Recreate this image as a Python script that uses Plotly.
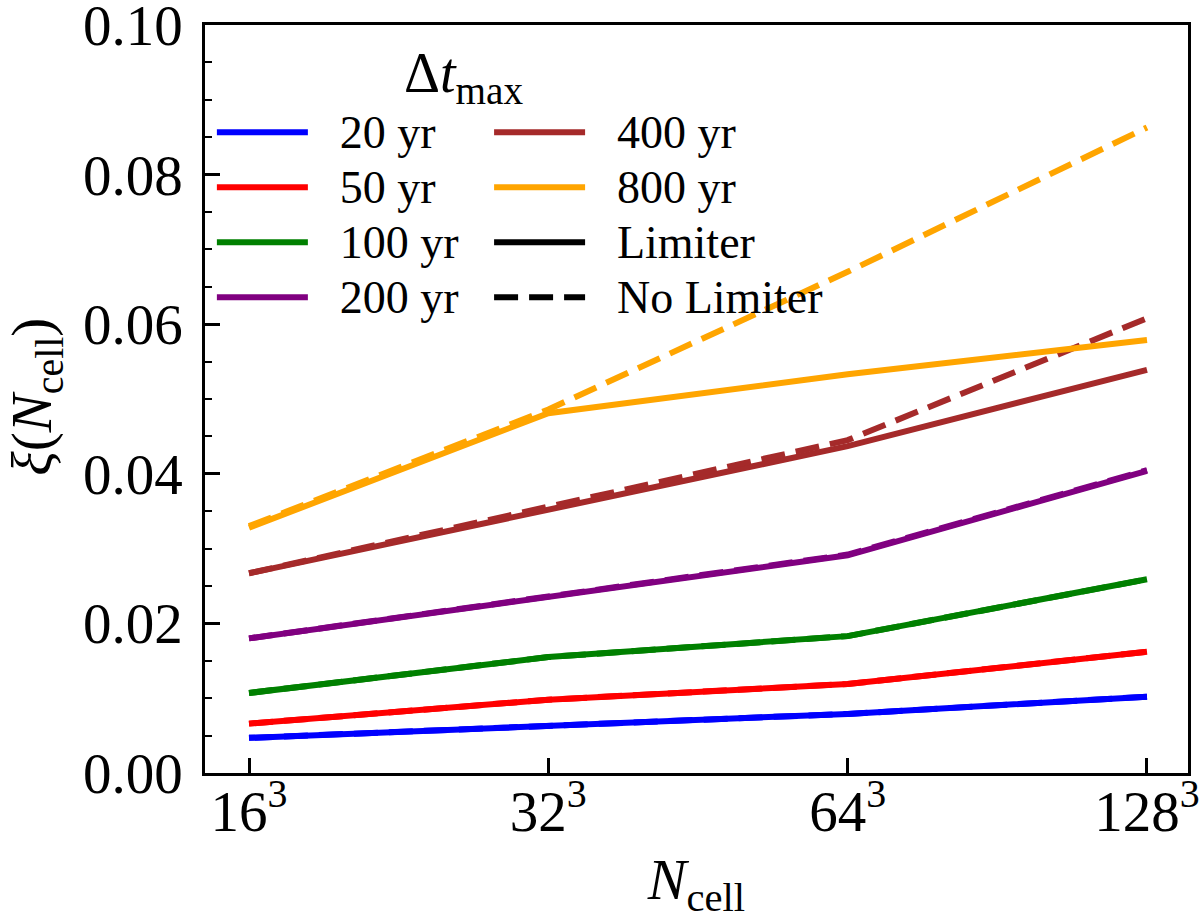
import plotly.graph_objects as go

categories = ["16<sup>3</sup>", "32<sup>3</sup>", "64<sup>3</sup>", "128<sup>3</sup>"]
labels = ["20 yr", "50 yr", "100 yr", "200 yr", "400 yr", "800 yr"]
colors = ["#0000ff", "#ff0000", "#008000", "#800080", "#a52a2a", "#ffa500"]
ytickvals = [0.00, 0.02, 0.04, 0.06, 0.08, 0.10]

lim_20 = [0.0047, 0.0064, 0.0079, 0.0102]
lim_50 = [0.0066, 0.0098, 0.0119, 0.0162]
lim_100 = [0.0107, 0.0155, 0.0183, 0.0259]
lim_200 = [0.0180, 0.0235, 0.0291, 0.0404]
lim_400 = [0.0267, 0.0353, 0.0437, 0.0539]
lim_800 = [0.0328, 0.0481, 0.0533, 0.0579]

nolim_20 = [0.0047, 0.0064, 0.0079, 0.0102]
nolim_50 = [0.0066, 0.0098, 0.0119, 0.0162]
nolim_100 = [0.0107, 0.0155, 0.0183, 0.0259]
nolim_200 = [0.0180, 0.0235, 0.0292, 0.0405]
nolim_400 = [0.0267, 0.0355, 0.0445, 0.0608]
nolim_800 = [0.0330, 0.0486, 0.0670, 0.0863]

limiter = [lim_20, lim_50, lim_100, lim_200, lim_400, lim_800]
nolimiter = [nolim_20, nolim_50, nolim_100, nolim_200, nolim_400, nolim_800]

xpos = list(range(len(categories)))
FONT = "Liberation Serif"
LW = 6
DASH = "24px,11px"

fig = go.Figure()
for lab, col, ys, yd in zip(labels, colors, limiter, nolimiter):
    fig.add_trace(go.Scatter(x=xpos, y=ys, mode="lines", line=dict(color=col, width=LW),
                             showlegend=False, hoverinfo="skip"))
    fig.add_trace(go.Scatter(x=xpos, y=yd, mode="lines", line=dict(color=col, width=LW, dash=DASH),
                             showlegend=False, hoverinfo="skip"))

# legend entries: column 1 -> legend, column 2 -> legend2
leg_names = labels + ["Limiter", "No Limiter"]
leg_colors = colors + ["#000000", "#000000"]
leg_dash = ["solid"] * 7 + ["24px,11px"]
leg_col = ["legend"] * 4 + ["legend2"] * 4
for n, c, d, lg in zip(leg_names, leg_colors, leg_dash, leg_col):
    fig.add_trace(go.Scatter(x=[None], y=[None], mode="lines",
                             name="<span style='font-size:46px'>\u00a0\u00a0\u200a" + n + "</span>",
                             line=dict(color=c, width=LW, dash=d), legend=lg))

legend_cfg = dict(font=dict(family=FONT, size=40, color="black"), bgcolor="rgba(0,0,0,0)",
                  borderwidth=0, itemwidth=91, tracegroupgap=0, yanchor="top", xanchor="left")

fig.update_layout(
    width=1200, height=920,
    margin=dict(l=205, r=12, t=25, b=147, autoexpand=False),
    plot_bgcolor="white", paper_bgcolor="white",
    font=dict(family=FONT, color="black"),
    legend=dict(**legend_cfg, x=0.007, y=0.900),
    legend2=dict(**legend_cfg, x=0.289, y=0.900),
    xaxis=dict(range=[-0.147, 3.137], tickvals=xpos, ticktext=categories,
               ticks="inside", ticklen=15, tickwidth=2.5, tickcolor="black",
               showline=True, linecolor="black", linewidth=2.5, mirror=True,
               showgrid=False, zeroline=False, ticklabeloverflow="allow",
               automargin=False, ticklabelstandoff=-13,
               tickfont=dict(family=FONT, size=57, color="black"),
               title=dict(text="<i>N</i><sub>cell</sub>", font=dict(family=FONT, size=58), standoff=24)),
    yaxis=dict(range=[0, 0.1], tickvals=ytickvals, tickformat=".2f",
               ticks="inside", ticklen=15, tickwidth=2.5, tickcolor="black",
               minor=dict(dtick=0.005, ticks="inside", ticklen=7, tickwidth=2, tickcolor="black"),
               showline=True, linecolor="black", linewidth=2.5, mirror=True,
               showgrid=False, zeroline=False, ticklabelstandoff=8, ticklabeloverflow="allow",
               automargin=False,
               tickfont=dict(family=FONT, size=57, color="black")),
    annotations=[
        dict(text="Δ<i>t</i><sub>max</sub>", x=0.263, y=0.930, xref="paper", yref="paper",
             xanchor="center", yanchor="middle", showarrow=False,
             font=dict(family=FONT, size=56, color="black")),
        dict(text="<i>ξ</i>(<i>N</i><sub>cell</sub>)", x=-0.172, y=0.503, xref="paper", yref="paper",
             xanchor="center", yanchor="middle", showarrow=False, textangle=-90,
             font=dict(family=FONT, size=57, color="black")),
    ],
)

fig.write_html("out.html", config={"displayModeBar": False},
               post_script="document.body.style.margin='0';")
